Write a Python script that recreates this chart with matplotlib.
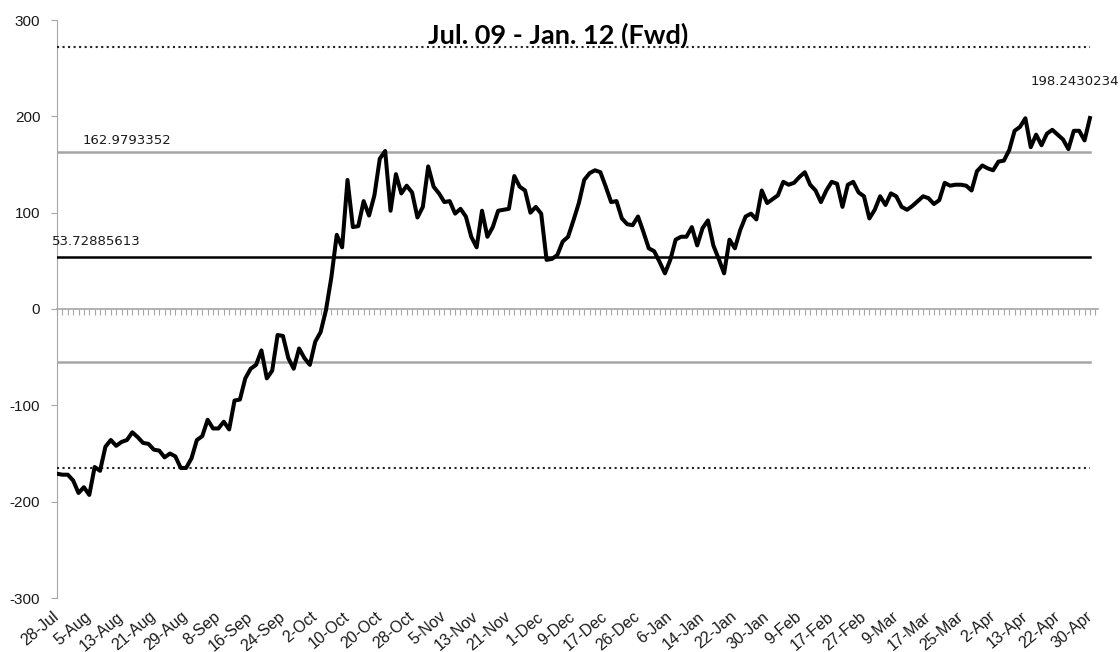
import matplotlib.pyplot as plt
import numpy as np

# daily forward spread series, Jul-28 to Apr-30
fwd_values = [
    -171, -172, -172, -178, -191, -185, -193, -164, -168, -143,
    -136, -142, -138, -136, -128, -133, -139, -140, -146, -147,
    -154, -150, -153, -165, -165, -155, -136, -132, -115, -124,
    -124, -117, -125, -95, -94, -72, -62, -58, -43, -72,
    -64, -27, -28, -51, -62, -41, -51, -58, -34, -24,
    -1, 33, 77, 64, 134, 85, 86, 112, 97, 118,
    156, 164, 102, 140, 120, 128, 121, 95, 106, 148,
    127, 120, 111, 112, 99, 104, 96, 75, 64, 102,
    75, 85, 102, 103, 104, 138, 127, 123, 100, 106,
    99, 51, 52, 56, 70, 75, 92, 110, 134, 141,
    144, 142, 127, 111, 112, 94, 88, 87, 96, 80,
    63, 60, 49, 37, 51, 72, 75, 75, 85, 66,
    84, 92, 66, 52, 37, 72, 63, 82, 96, 99,
    93, 123, 110, 114, 118, 132, 129, 131, 137, 142,
    129, 123, 111, 123, 132, 130, 106, 129, 132, 121,
    117, 94, 103, 117, 108, 120, 117, 106, 103, 107,
    112, 117, 115, 109, 113, 131, 128, 129, 129, 128,
    123, 143, 149, 146, 144, 153, 154, 165, 185, 189,
    198, 168, 181, 170, 182, 186, 181, 176, 166, 185,
    185, 175, 198.2430234,
]

date_labels = [
    '28-Jul', '5-Aug', '13-Aug', '21-Aug', '29-Aug', '8-Sep', '16-Sep',
    '24-Sep', '2-Oct', '10-Oct', '20-Oct', '28-Oct', '5-Nov', '13-Nov',
    '21-Nov', '1-Dec', '9-Dec', '17-Dec', '26-Dec', '6-Jan', '14-Jan',
    '22-Jan', '30-Jan', '9-Feb', '17-Feb', '27-Feb', '9-Mar', '17-Mar',
    '25-Mar', '2-Apr', '13-Apr', '22-Apr', '30-Apr',
]
label_step = 6

mean_level = 53.72885613
upper_level = 162.9793352
sd = upper_level - mean_level

AXIS_GREY = '#a6a6a6'
plt.rcParams['axes.unicode_minus'] = False

x = np.arange(len(fwd_values))

fig = plt.figure(figsize=(11.2, 6.52), dpi=100)
ax = fig.add_axes([57 / 1120, 1 - 598 / 652, (1098 - 57) / 1120, (598 - 20) / 652])

# sigma bands drawn as flat series across the whole range
bands = [
    (2, '#222222', 1.5, ':'),
    (1, AXIS_GREY, 1.8, '-'),
    (0, 'black', 1.8, '-'),
    (-1, AXIS_GREY, 1.8, '-'),
    (-2, '#222222', 1.5, ':'),
]
for k, col, lw, ls in bands:
    ax.plot(x, np.full(len(x), mean_level + k * sd), color=col, lw=lw, ls=ls, zorder=3)

ax.plot(x, fwd_values, color='black', lw=2.9, solid_joinstyle='round', zorder=5)

ax.set_xlim(0, 193.5)
ax.set_ylim(-300, 300)
ax.set_yticks(range(-300, 301, 100))

for side in ['top', 'right']:
    ax.spines[side].set_visible(False)
ax.spines['left'].set_color(AXIS_GREY)
ax.spines['bottom'].set_color(AXIS_GREY)
ax.spines['bottom'].set_position(('data', 0))
ax.spines['bottom'].set_linewidth(1.2)

ax.set_xticks(np.arange(0, 194))
ax.tick_params(axis='x', direction='out', length=4, width=0.8, color=AXIS_GREY, labelbottom=False)
ax.tick_params(axis='y', direction='out', length=4, color=AXIS_GREY,
               labelsize=11, labelcolor='#1a1a1a', pad=8)
for lab in ax.get_yticklabels():
    lab.set_fontfamily('Liberation Sans')

# date labels sit at the bottom of the plot, not on the zero line
sec = ax.secondary_xaxis('bottom')
sec.set_xticks(x[::label_step], date_labels)
sec.spines['bottom'].set_visible(False)
sec.tick_params(length=0, pad=12, labelsize=11.5, labelcolor='#1a1a1a')
for lab in sec.get_xticklabels():
    lab.set_rotation(40)
    lab.set_ha('right')
    lab.set_va('center')
    lab.set_rotation_mode('anchor')
    lab.set_fontfamily('Liberation Sans')

lbl_kw = dict(textcoords='offset points', fontsize=9.5, color='#1a1a1a',
              family='DejaVu Sans', va='center', annotation_clip=False)
ax.annotate(f'{upper_level}', xy=(4.8, upper_level), xytext=(0, 8), ha='left', **lbl_kw)
ax.annotate(f'{mean_level}', xy=(-0.9, mean_level), xytext=(0, 11), ha='left', **lbl_kw)
ax.annotate(f'{fwd_values[-1]}', xy=(x[-1], fwd_values[-1]), xytext=(21, 26.5),
            ha='right', **lbl_kw)

fig.text(558 / 1120, 1 - 35 / 652, 'Jul. 09 - Jan. 12 (Fwd)', ha='center', va='center',
         fontsize=19.5, fontweight='bold', family='Lato', color='black')

fig.savefig('out.png', dpi=100)
